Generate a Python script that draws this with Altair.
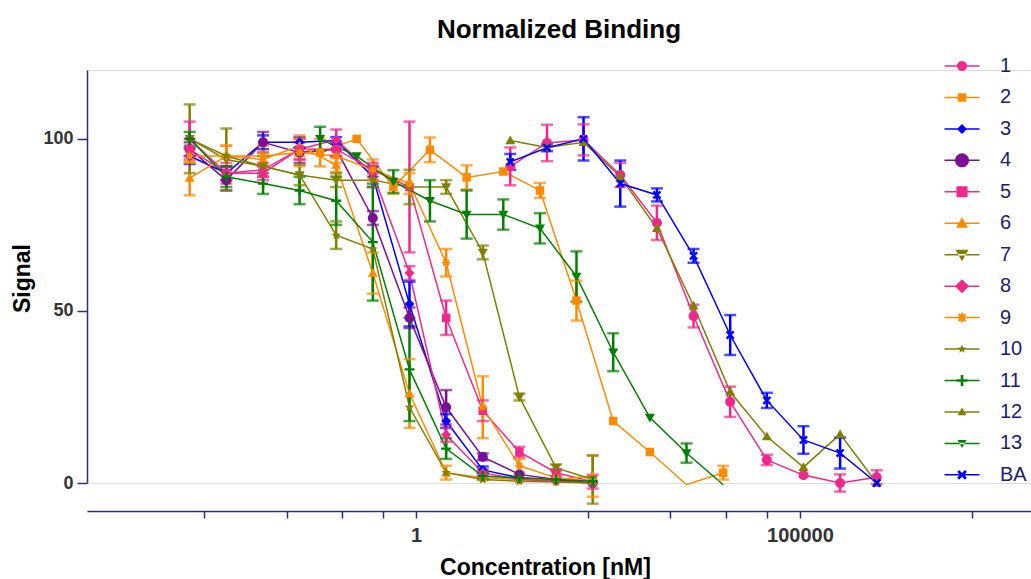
import math
import altair as alt
import pandas as pd

# ---------------- data ----------------
series_names = ["1", "2", "3", "4", "5", "6", "7", "8", "9", "10", "11", "12", "13", "BA"]
series_colors = ["#F0288C", "#FF8A00", "#0000FF", "#7A0F96", "#F0288C", "#FF8A00", "#808000",
                 "#F0288C", "#FF8A00", "#808000", "#008000", "#808000", "#008000", "#0000FF"]

# concentrations in nM (three dilution series, 3-fold)
conc_low = [0.00113, 0.00339, 0.0102, 0.0305, 0.0914, 0.274, 0.823, 2.47, 7.41, 22.2, 66.7, 200]
conc_mid = [0.0565, 0.169, 0.508, 1.52, 4.57, 13.7, 41.2, 123, 370, 1111, 3333, 10000]
conc_high = [16.9, 50.8, 152, 457, 1372, 4115, 12346, 37037, 111111, 333333, 1000000]

sig_1 = [92, 98.8, 99.7, 89.5, 75.6, 48.5, 23.6, 6.7, 2.3, 0, 1.7]
err_1 = [5.5, 5.3, 4.5, 3.5, 5, 3.3, 4.4, 1.5, 0, 2.5, 2]
sig_2 = [96, 100, 86, 96.8, 88.8, 90.5, 85, 53, 18, 9, -0.5, 3]
err_2 = [4, 0, 2, 3.6, 3.5, 0, 2.2, 5.8, 0, 0, 0, 2]
sig_3 = [95, 90, 99, 99, 99.5, 89, 52, 18, 3.8, 1.5, 0.8, 0]
err_3 = [2.3, 2, 2, 1.5, 1, 3, 6.5, 2, 1, 0, 0, 0]
sig_4 = [97, 88, 99, 96, 97, 77, 48, 22, 7.6, 2.5, 1, 0]
err_4 = [2, 3, 3, 3, 2, 2, 3, 5, 1, 0, 0, 0]
sig_5 = [97, 90, 90, 97, 97, 91, 86, 48, 21, 9, 3, 0.4]
err_5 = [3, 3, 2, 3, 2, 2, 19, 5, 3, 1.5, 1, 2]
sig_6 = [88.6, 95, 94, 98, 92.4, 61, 26, 3, 1.5, 1, 1, 2]
err_6 = [5, 3, 2, 3, 2, 6, 10, 2, 0, 0, 0, 6]
sig_7 = [100, 94, 92, 89.5, 88, 88, 86, 86, 67, 25, 4.4, 1]
err_7 = [10, 9, 3, 3, 2, 2, 5, 2, 2, 1, 1, 7]
sig_8 = [100, 90, 91, 97, 99.7, 90, 61, 14, 3, 1, 0.5, 0]
err_8 = [5, 2, 2, 3, 3, 2, 2, 2, 1, 0, 0, 0]
sig_9 = [95, 95, 95, 96, 95, 91, 87, 64, 22, 5, 1.5, 0.5]
err_9 = [2, 3, 3, 4, 2, 3, 3, 4, 9, 2, 0, 0]
sig_10 = [100, 95, 92, 89.5, 72, 68, 22, 3, 1, 0.5, 0.3, 0]
err_10 = [0, 0, 0, 0, 4, 0, 0, 0, 0, 0, 0, 0]
sig_11 = [100, 89, 87, 85, 82, 70, 33, 10, 2, 1.5, 1, 0.5]
err_11 = [2, 3, 3, 4, 7, 17, 15, 3, 1, 0, 0, 0]
sig_12 = [99.5, 97.5, 99, 89, 74, 51.5, 26.5, 13.5, 4.6, 14.2, 0]
err_12 = [0, 0, 0, 0, 0, 0, 0, 0, 0, 0, 0]
sig_13 = [100, 95, 87.6, 82, 78, 78, 74, 60, 38, 19, 8.7, -0.5]
err_13 = [3.5, 0, 3.3, 6, 7, 4.4, 4.4, 7.3, 5.5, 0, 2.8, 0]
sig_BA = [93.3, 97.4, 100, 87, 83.7, 66, 43, 24, 12.5, 8.7, 0]
err_BA = [2.3, 1, 6.3, 6.7, 1.9, 2, 5.8, 2.2, 4, 4.5, 0]

series_table = [
    ("1", conc_high, sig_1, err_1), ("2", conc_mid, sig_2, err_2),
    ("3", conc_low, sig_3, err_3), ("4", conc_low, sig_4, err_4),
    ("5", conc_low, sig_5, err_5), ("6", conc_low, sig_6, err_6),
    ("7", conc_low, sig_7, err_7), ("8", conc_low, sig_8, err_8),
    ("9", conc_low, sig_9, err_9), ("10", conc_low, sig_10, err_10),
    ("11", conc_low, sig_11, err_11), ("12", conc_high, sig_12, err_12),
    ("13", conc_mid, sig_13, err_13), ("BA", conc_high, sig_BA, err_BA),
]

rows = []
for name, conc, sig, err in series_table:
    for c, v, e in zip(conc, sig, err):
        rows.append({"series": name, "conc": c, "signal": v, "err": e,
                     "lo": v - e, "hi": v + e})
df = pd.DataFrame(rows)

# x-axis ticks (Prism-style log axis, majors 1 and 1e5)
x_ticks = [0.001721, 0.0206, 0.1074, 0.3707, 1, 172.1, 2060, 10737, 37074, 100000, 1.721e7]

# ---------------- marker shapes ----------------
def poly(points, k=1.0):
    return "M" + "L".join(f"{x * k:.3f},{y * k:.3f}" for x, y in points) + "Z"

def star(n, r_in):
    pts = []
    for i in range(2 * n):
        r = 1.0 if i % 2 == 0 else r_in
        a = -math.pi / 2 + math.pi * i / n
        pts.append((r * math.cos(a), r * math.sin(a)))
    return pts

circle = [(math.cos(2 * math.pi * i / 28), math.sin(2 * math.pi * i / 28)) for i in range(28)]
square = [(-0.85, -0.85), (0.85, -0.85), (0.85, 0.85), (-0.85, 0.85)]
diamond = [(0, -1), (1, 0), (0, 1), (-1, 0)]
tri_up = [(0, -1), (1, 0.75), (-1, 0.75)]
tri_down = [(0, 1), (1, -0.75), (-1, -0.75)]
w = 0.24
plus = [(-w, -1), (w, -1), (w, -w), (1, -w), (1, w), (w, w), (w, 1), (-w, 1),
        (-w, w), (-1, w), (-1, -w), (-w, -w)]
c45 = math.cos(math.pi / 4)
xmark = [((x - y) * c45, (x + y) * c45) for x, y in plus]

marker_shapes = [circle, square, diamond, circle, square, tri_up, tri_down, diamond,
                 star(8, 0.55), star(5, 0.45), plus, tri_up, tri_down, xmark]
marker_px = [10, 10, 10, 14, 13, 12, 13, 14, 12, 9, 11, 9, 9, 11]

point_paths = [poly(s) for s in marker_shapes]
legend_line = "M-1.75,-0.075H1.75V0.075H-1.75Z"
legend_paths = [legend_line + poly(s, p / 20.0) for s, p in zip(marker_shapes, marker_px)]

NAVY = "#2E2E80"
FONT = "Liberation Sans"

x_enc = alt.X("conc:Q",
              scale=alt.Scale(type="log", domain=[5.2e-5, 1.02e8], nice=False),
              axis=alt.Axis(values=x_ticks,
                            labelExpr="datum.value == 1 ? '1' : (datum.value == 100000 ? '100000' : '')",
                            offset=28, grid=False, domainColor=NAVY, tickColor=NAVY,
                            domainWidth=1.5, tickWidth=1.5, tickSize=7,
                            labelFont=FONT, labelFontSize=20, labelFontWeight="bold",
                            labelColor="#333333", labelPadding=7, labelFlush=False,
                            labelOverlap=False,
                            title="Concentration [nM]", titleFont=FONT, titleFontSize=23,
                            titleFontWeight="bold", titleColor="#000000",
                            titleX=458, titleY=56, titleBaseline="middle"))
y_scale = alt.Scale(domain=[0, 120], nice=False, zero=False)
y_enc = alt.Y("signal:Q", scale=y_scale,
              axis=alt.Axis(values=[0, 50, 100], grid=False, domainColor=NAVY,
                            tickColor=NAVY, domainWidth=1.5, tickWidth=1.5, tickSize=10,
                            labelFont=FONT, labelFontSize=18, labelFontWeight="bold",
                            labelColor="#333333", labelPadding=4,
                            title="Signal", titleFont=FONT, titleFontSize=23,
                            titleFontWeight="bold", titleColor="#000000",
                            titleX=-65, titleY=208, titleAngle=270,
                            titleBaseline="middle", titleAlign="center"))

color_scale = alt.Scale(domain=series_names, range=series_colors)

base = alt.Chart(df)

lines = base.mark_line(strokeWidth=1.5, clip=False).encode(
    x=x_enc, y=y_enc,
    color=alt.Color("series:N", scale=color_scale, legend=None),
    detail="series:N",
    order="conc:Q",
)

err_df = base.transform_filter("datum.err > 0")
bars = err_df.mark_rule(strokeWidth=2.5).encode(
    x="conc:Q",
    y=alt.Y("lo:Q", scale=y_scale),
    y2="hi:Q",
    color=alt.Color("series:N", scale=color_scale, legend=None),
)
cap_lo = err_df.mark_tick(orient="horizontal", thickness=2.5, size=12).encode(
    x="conc:Q", y=alt.Y("lo:Q", scale=y_scale),
    color=alt.Color("series:N", scale=color_scale, legend=None),
)
cap_hi = err_df.mark_tick(orient="horizontal", thickness=2.5, size=12).encode(
    x="conc:Q", y=alt.Y("hi:Q", scale=y_scale),
    color=alt.Color("series:N", scale=color_scale, legend=None),
)

points = base.transform_filter("datum.signal >= 0").mark_point(
    filled=True, opacity=1, strokeWidth=0).encode(
    x="conc:Q", y=alt.Y("signal:Q", scale=y_scale),
    color=alt.Color("series:N", scale=color_scale, legend=None),
    shape=alt.Shape("series:N", scale=alt.Scale(domain=series_names, range=point_paths),
                    legend=None),
    size=alt.Size("series:N", scale=alt.Scale(domain=series_names,
                                              range=[p * p for p in marker_px]),
                  legend=None),
)

legend_spec = alt.Legend(orient="none", legendX=865, legendY=-14, title=None,
                         symbolSize=400, symbolStrokeWidth=0, symbolLimit=30,
                         labelFont=FONT, labelFontSize=20, labelColor="#1C1C6E",
                         labelOffset=28, rowPadding=11.45, padding=0)
legend_layer = base.transform_filter("datum.signal > 1000").mark_point(
    filled=True, opacity=1).encode(
    x="conc:Q", y=alt.Y("signal:Q", scale=y_scale),
    color=alt.Color("series:N", scale=color_scale, legend=legend_spec),
    shape=alt.Shape("series:N", scale=alt.Scale(domain=series_names, range=legend_paths),
                    legend=legend_spec),
)

chart = alt.layer(lines, bars, cap_lo, cap_hi, points, legend_layer).resolve_scale(
    color="independent", shape="independent", size="independent"
).properties(
    width=944, height=413,
    autosize=alt.AutoSizeParams(type="none"),
    padding={"left": 87, "top": 70, "right": 0, "bottom": 96},
    title=alt.TitleParams("Normalized Binding", font=FONT, fontSize=26, fontWeight="bold",
                          color="#000000", anchor="middle", offset=0, dy=8,
                          baseline="alphabetic"),
).configure_view(stroke=None).configure(background="white")

chart.save("out.html", embed_options={"renderer": "svg", "actions": False})
